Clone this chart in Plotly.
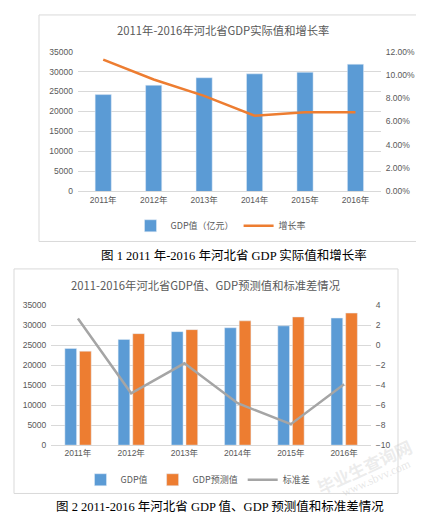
import plotly.graph_objects as go

years = ["2011年", "2012年", "2013年", "2014年", "2015年", "2016年"]

# Chart 1
gdp_actual = [24228, 26575, 28443, 29421, 29806, 31828]
growth_rate = [0.113, 0.096, 0.082, 0.065, 0.068, 0.068]

# Chart 2
gdp_value = [24228, 26500, 28450, 29420, 29900, 31850]
gdp_forecast = [23550, 27950, 28950, 31150, 32130, 33100]
std_diff = [2.7, -4.8, -1.8, -5.8, -7.9, -3.9]

left_ticks = [0, 5000, 10000, 15000, 20000, 25000, 30000, 35000]

W, H = 424, 514
def px(x): return x / W
def py(y): return 1 - y / H

BLUE = "#5B9BD5"
ORANGE = "#ED7D31"
GREY = "#A5A5A5"
TXT = "#595959"
GRID = "#D9D9D9"
TICKFONT = dict(family="Liberation Sans, Noto Sans CJK SC", size=8.5, color=TXT)
CJK = "Noto Sans CJK SC, Liberation Sans"

fig = go.Figure()

fig.add_trace(go.Bar(x=years, y=gdp_actual, name="GDP值（亿元）", marker_color=BLUE,
                     width=0.32, offset=-0.16, xaxis="x", yaxis="y", legend="legend"))
fig.add_trace(go.Scatter(x=years, y=growth_rate, name="增长率", mode="lines",
                         line=dict(color=ORANGE, width=2.5), xaxis="x", yaxis="y2", legend="legend"))

fig.add_trace(go.Bar(x=years, y=gdp_value, name="GDP值", marker_color=BLUE,
                     width=0.22, offset=-0.245, xaxis="x2", yaxis="y3", legend="legend2"))
fig.add_trace(go.Bar(x=years, y=gdp_forecast, name="GDP预测值", marker_color=ORANGE,
                     width=0.22, offset=0.03, xaxis="x2", yaxis="y3", legend="legend2"))
fig.add_trace(go.Scatter(x=years, y=std_diff, name="标准差", mode="lines",
                         line=dict(color=GREY, width=2.5), xaxis="x2", yaxis="y4", legend="legend2"))

common_x = dict(type="category", showgrid=False, zeroline=False, showline=True,
                linecolor=GRID, linewidth=1, ticks="", tickfont=TICKFONT, fixedrange=True)
fig.update_layout(
    width=W, height=H, margin=dict(l=0, r=0, t=0, b=0),
    paper_bgcolor="white", plot_bgcolor="rgba(0,0,0,0)",
    barmode="overlay", showlegend=True,
    xaxis=dict(domain=[px(70), px(372.7)], anchor="y", **common_x),
    yaxis=dict(domain=[py(182), py(39.3)], range=[0, 35000], tickvals=left_ticks,
               tickformat="d", showgrid=True, gridcolor=GRID, zeroline=False, tickfont=TICKFONT,
               ticklabelstandoff=4, anchor="x"),
    yaxis2=dict(overlaying="y", side="right", anchor="x", range=[0, 0.12], dtick=0.02,
                tickformat=".2%", showgrid=False, zeroline=False, tickfont=TICKFONT,
                ticklabelstandoff=4),
    xaxis2=dict(domain=[px(43.3), px(362.7)], anchor="y3", **common_x),
    yaxis3=dict(domain=[py(440.7), py(298.3)], range=[0, 35000], tickvals=left_ticks,
                tickformat="d", showgrid=True, gridcolor=GRID, zeroline=False, tickfont=TICKFONT,
                ticklabelstandoff=4, anchor="x2"),
    yaxis4=dict(overlaying="y3", side="right", anchor="x2", range=[-10, 4], dtick=2,
                showgrid=False, zeroline=False, tickfont=TICKFONT, ticklabelstandoff=4),
    legend=dict(orientation="h", x=px(213), y=py(217), xanchor="center", yanchor="middle",
                font=dict(family=CJK, size=9, color=TXT), bgcolor="rgba(0,0,0,0)",
                itemwidth=30, tracegroupgap=0),
    legend2=dict(orientation="h", x=px(190), y=py(476), xanchor="center", yanchor="middle",
                 font=dict(family=CJK, size=9, color=TXT), bgcolor="rgba(0,0,0,0)",
                 itemwidth=30, tracegroupgap=0),
    shapes=[
        dict(type="rect", xref="paper", yref="paper", x0=px(31), x1=px(415), y0=py(233), y1=py(2),
             line=dict(color=GRID, width=1), layer="below"),
        dict(type="rect", xref="paper", yref="paper", x0=px(6), x1=px(390), y0=py(490), y1=py(261),
             line=dict(color=GRID, width=1), layer="below"),
    ],
    annotations=[
        dict(text="2011年-2016年河北省GDP实际值和增长率", xref="paper", yref="paper",
             x=px(214.5), y=py(17), xanchor="center", yanchor="middle", showarrow=False,
             font=dict(family=CJK, size=11.3, color=TXT)),
        dict(text="2011-2016年河北省GDP值、GDP预测值和标准差情况", xref="paper", yref="paper",
             x=px(197.5), y=py(277), xanchor="center", yanchor="middle", showarrow=False,
             font=dict(family=CJK, size=11.3, color=TXT)),
        dict(text="图 1 2011 年-2016 年河北省 GDP 实际值和增长率", xref="paper", yref="paper",
             x=px(225.5), y=py(247), xanchor="center", yanchor="middle", showarrow=False,
             font=dict(family="Liberation Serif, Noto Sans CJK SC", size=12.5, color="black")),
        dict(text="图 2 2011-2016 年河北省 GDP 值、GDP 预测值和标准差情况", xref="paper", yref="paper",
             x=px(212.5), y=py(503), xanchor="center", yanchor="middle", showarrow=False,
             font=dict(family="Liberation Serif, Noto Sans CJK SC", size=12.5, color="black")),
        dict(text="<b>毕业生查询网</b>", xref="paper", yref="paper", x=px(356), y=py(462),
             xanchor="center", yanchor="middle", showarrow=False, textangle=-25,
             font=dict(family=CJK, size=17, color="rgba(200,200,200,0.35)")),
        dict(text="www.sbvv.com", xref="paper", yref="paper", x=px(368), y=py(474),
             xanchor="center", yanchor="middle", showarrow=False, textangle=-24,
             font=dict(family="Liberation Serif", size=12, color="rgba(200,200,200,0.45)")),
    ],
)

fig.write_html("out.html")
